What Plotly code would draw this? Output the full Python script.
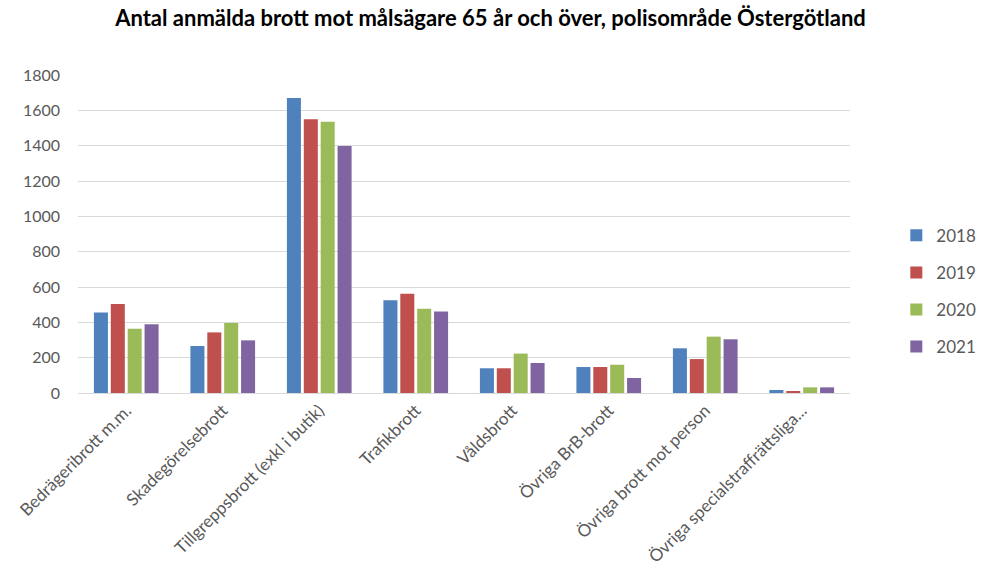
import plotly.graph_objects as go

categories = ["Bedrägeribrott m.m.", "Skadegörelsebrott", "Tillgreppsbrott (exkl i butik)",
              "Trafikbrott", "Våldsbrott", "Övriga BrB-brott", "Övriga brott mot person",
              "Övriga specialstraffrättsliga..."]
years = ["2018", "2019", "2020", "2021"]
v2018 = [456, 266, 1670, 525, 140, 147, 253, 17]
v2019 = [504, 343, 1549, 562, 140, 147, 192, 11]
v2020 = [364, 396, 1535, 477, 223, 160, 319, 32]
v2021 = [389, 298, 1398, 462, 170, 85, 304, 32]
series = [v2018, v2019, v2020, v2021]
colors = ["#4F81BD", "#C0504D", "#9BBB59", "#8064A2"]

fig = go.Figure()
for name, vals, col in zip(years, series, colors):
    fig.add_trace(go.Bar(x=categories, y=vals, name=name, marker_color=col,
                         marker_line_width=0, legendgroup=name))

font = "Lato, 'Open Sans', sans-serif"
fig.update_layout(
    width=981, height=571,
    margin=dict(l=78, r=131, t=75, b=178, autoexpand=False),
    paper_bgcolor="white", plot_bgcolor="white",
    title=dict(text="<b>Antal anmälda brott mot målsägare 65 år och över, polisområde Östergötland</b>",
               x=0.5, xanchor="center", y=0.968, yanchor="middle",
               font=dict(family=font, size=22, color="black")),
    barmode="group", bargap=0.3, bargroupgap=0.17,
    font=dict(family=font, size=15, color="#595959"),
    legend=dict(x=1.06, xanchor="left", y=0.32, yanchor="middle",
                traceorder="grouped", tracegroupgap=12, itemwidth=30,
                font=dict(family=font, size=17, color="#595959")),
    xaxis=dict(tickangle=-45, showline=True, linecolor="#D9D9D9", linewidth=1,
               ticks="", automargin=False,
               tickfont=dict(family=font, size=17, color="#595959")),
    yaxis=dict(range=[0, 1800], dtick=200, showgrid=True, gridcolor="#D9D9D9",
               gridwidth=1, zeroline=False, ticks="", ticklabelstandoff=17,
               automargin=False,
               tickfont=dict(family=font, size=16, color="#595959")),
)

fig.write_html("out.html", config={"displayModeBar": False},
               post_script="document.body.style.margin='0';document.body.style.overflow='hidden';")
